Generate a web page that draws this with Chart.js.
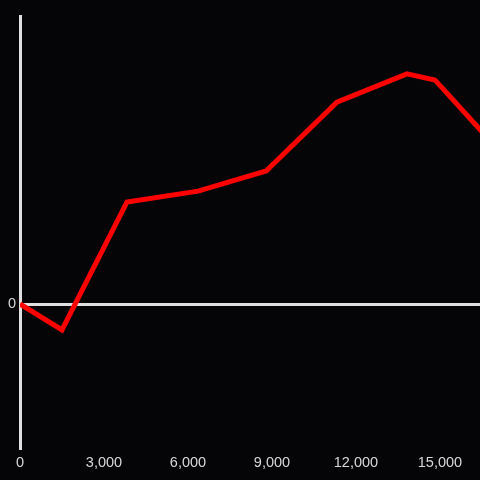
<!DOCTYPE html>
<html>
<head>
<meta charset="utf-8">
<script src="https://cdn.jsdelivr.net/npm/chart.js@4/dist/chart.umd.min.js"></script>
<style>
    html, body { margin: 0; padding: 0; background: #050407; }
    .chart-container { width: 480px; height: 480px; position: relative; }
</style>
</head>
<body>
<div class="chart-container">
    <canvas id="chart"></canvas>
</div>
<script>
// x positions of each point and the matching y values
const xValues = [0, 1500, 3820, 6360, 8790, 11320, 13820, 14820, 16900]
const yValues = [0, -9.0, 35.4, 39.2, 46.2, 70.1, 79.9, 77.8, 55.6]
const xTicks = [0, 3000, 6000, 9000, 12000, 15000]
const yTicks = [0]

const axisColor = '#e0e0e0'
const labelColor = '#d8d8d8'

const points = xValues.map((x, i) => ({ x: x, y: yValues[i] }))

const ctx = document.getElementById('chart').getContext('2d')
const chart = new Chart(ctx, {
    type: 'line',
    data: {
        datasets: [{
            data: points,
            borderColor: '#ff0000',
            borderWidth: 5,
            pointRadius: 0,
            tension: 0,
            fill: false
        }]
    },
    options: {
        animation: false,
        responsive: true,
        maintainAspectRatio: false,
        layout: {
            padding: { top: 16, right: 0, left: 0, bottom: 0 }
        },
        plugins: {
            legend: { display: false },
            tooltip: { enabled: false }
        },
        scales: {
            x: {
                type: 'linear',
                min: 0,
                max: 16430,
                afterBuildTicks: scale => {
                    scale.ticks = xTicks.map(v => ({ value: v }))
                },
                afterFit: scale => { scale.height = 32 },
                grid: { display: false, drawTicks: false },
                border: { display: false },
                ticks: {
                    color: labelColor,
                    padding: 6,
                    maxRotation: 0,
                    font: { size: 14.5 },
                    callback: v => v.toLocaleString('en-US')
                }
            },
            y: {
                type: 'linear',
                min: -50,
                max: 100,
                afterBuildTicks: scale => {
                    scale.ticks = yTicks.map(v => ({ value: v }))
                },
                afterFit: scale => { scale.width = 20 },
                grid: {
                    color: axisColor,
                    lineWidth: 3,
                    drawTicks: false
                },
                border: { display: true, color: axisColor, width: 3 },
                ticks: {
                    color: labelColor,
                    padding: 4,
                    font: { size: 14.5 }
                }
            }
        }
    }
})
</script>
</body>
</html>
